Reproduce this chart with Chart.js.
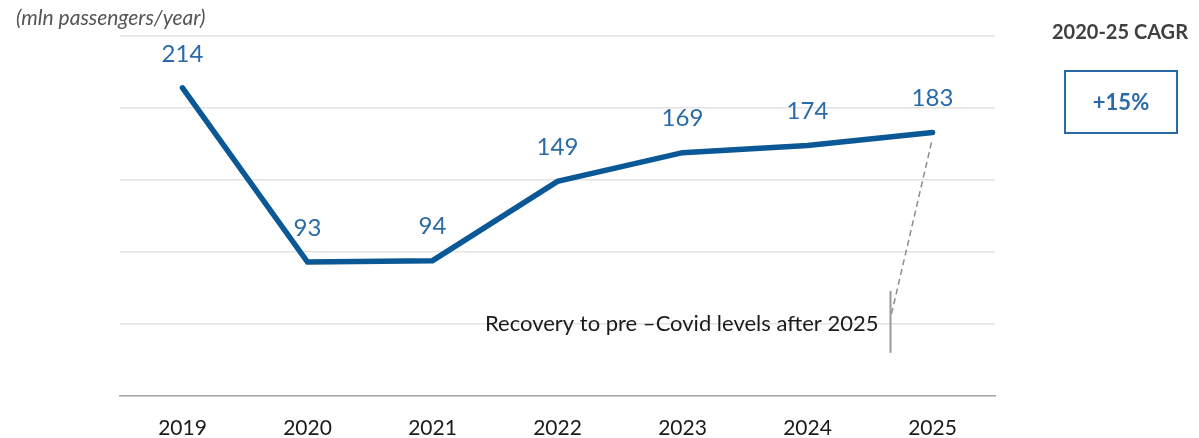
<!DOCTYPE html>
<html lang="en">
<head>
    <meta charset="UTF-8">
    <title>Passenger traffic 2019-2025</title>
    <script src="https://cdn.jsdelivr.net/npm/chart.js"></script>
    <style>
        html, body { margin: 0; padding: 0; background: #fff; }
        #chart-container { width: 1199px; height: 438px; position: relative; }
    </style>
</head>
<body>
    <div id="chart-container">
        <canvas id="chart"></canvas>
    </div>
    <script type="text/javascript">
        // passengers per year, millions
        var years = ['2019', '2020', '2021', '2022', '2023', '2024', '2025'];
        var passengers = [214, 93, 94, 149, 169, 174, 183];
        var yTicks = [0, 50, 100, 150, 200, 250];
        var unitLabel = '(mln passengers/year)';
        var cagrTitle = '2020-25 CAGR';
        var cagrValue = '+15%';
        var noteText = 'Recovery to pre \u2013Covid levels after 2025';

        var FONT = 'Lato, "Liberation Sans", sans-serif';
        var LINE_BLUE = '#0b5896';
        var LABEL_BLUE = '#2a6aa6';

        // value labels above each point
        var pointLabels = {
            id: 'pointLabels',
            afterDatasetsDraw: function(chart) {
                var ctx = chart.ctx;
                var meta = chart.getDatasetMeta(0);
                ctx.save();
                ctx.font = '24px ' + FONT;
                ctx.fillStyle = LABEL_BLUE;
                ctx.textAlign = 'center';
                ctx.textBaseline = 'middle';
                meta.data.forEach(function(pt, i) {
                    ctx.fillText(String(passengers[i]), pt.x, pt.y - 34);
                });
                ctx.restore();
            }
        };

        // unit caption, CAGR box and the recovery note
        var extras = {
            id: 'extras',
            afterDraw: function(chart) {
                var ctx = chart.ctx;
                var xs = chart.scales.x, ys = chart.scales.y;
                ctx.save();

                ctx.font = 'italic 21px ' + FONT;
                ctx.fillStyle = '#555555';
                ctx.textAlign = 'left';
                ctx.textBaseline = 'middle';
                ctx.fillText(unitLabel, 16, 18);

                ctx.font = 'bold 20px ' + FONT;
                ctx.fillStyle = '#404040';
                ctx.textAlign = 'center';
                ctx.fillText(cagrTitle, 1120, 33);

                ctx.strokeStyle = '#2a6aa6';
                ctx.lineWidth = 2;
                ctx.strokeRect(1065, 71, 112, 62);
                ctx.font = 'bold 22px ' + FONT;
                ctx.fillStyle = LABEL_BLUE;
                ctx.fillText(cagrValue, 1121, 103);

                // note pointer from the 2025 point
                var last = years.length - 1;
                var px = xs.getPixelForValue(last);
                var py = ys.getPixelForValue(passengers[last]);
                var tickX = px - 42;
                ctx.strokeStyle = '#8c8c8c';
                ctx.lineWidth = 1.5;
                ctx.setLineDash([6, 4]);
                ctx.beginPath();
                ctx.moveTo(px - 1, py + 10);
                ctx.lineTo(tickX + 1, ys.getPixelForValue(57));
                ctx.stroke();
                ctx.setLineDash([]);

                ctx.strokeStyle = '#999999';
                ctx.lineWidth = 2;
                ctx.beginPath();
                ctx.moveTo(tickX, ys.getPixelForValue(73));
                ctx.lineTo(tickX, ys.getPixelForValue(30));
                ctx.stroke();

                ctx.font = '22px ' + FONT;
                ctx.fillStyle = '#1a1a1a';
                ctx.textAlign = 'right';
                ctx.textBaseline = 'middle';
                ctx.fillText(noteText, tickX - 12, ys.getPixelForValue(50));

                ctx.restore();
            }
        };

        var ctx = document.getElementById('chart').getContext('2d');
        var chart = new Chart(ctx, {
            type: 'line',
            data: {
                labels: years,
                datasets: [{
                    data: passengers,
                    borderColor: LINE_BLUE,
                    borderWidth: 5.5,
                    pointRadius: 0,
                    tension: 0,
                    borderCapStyle: 'round',
                    borderJoinStyle: 'miter'
                }]
            },
            options: {
                responsive: true,
                maintainAspectRatio: false,
                animation: false,
                layout: { padding: { left: 120, right: 204, top: 36, bottom: 0 } },
                plugins: {
                    legend: { display: false },
                    tooltip: { enabled: false }
                },
                scales: {
                    x: {
                        offset: true,
                        grid: { display: false },
                        border: { color: '#a6a6a6', width: 1.5 },
                        ticks: {
                            color: '#1a1a1a',
                            font: { family: FONT, size: 21 },
                            padding: 12
                        },
                        afterFit: function(s) { s.height = 42; }
                    },
                    y: {
                        min: yTicks[0],
                        max: yTicks[yTicks.length - 1],
                        afterBuildTicks: function(s) {
                            s.ticks = yTicks.map(function(v) { return { value: v }; });
                        },
                        ticks: { display: false },
                        border: { display: false },
                        grid: { color: '#e3e3e3', lineWidth: 1.5, drawTicks: false },
                        afterFit: function(s) { s.width = 0; }
                    }
                }
            },
            plugins: [pointLabels, extras]
        });
    </script>
</body>
</html>
